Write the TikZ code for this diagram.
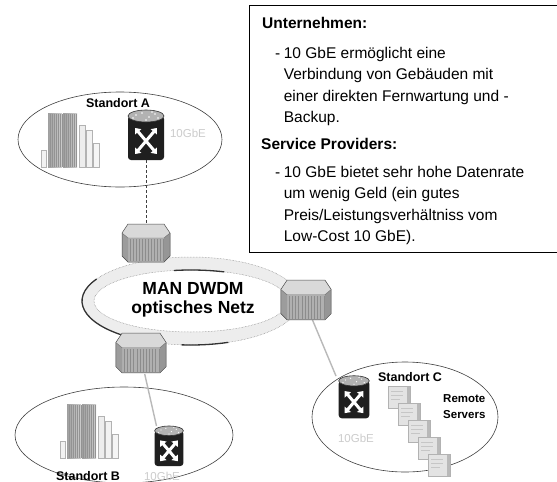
\documentclass[tikz,border=0pt]{standalone}
\usepackage{fontspec}
\setmainfont{Liberation Sans}
\usetikzlibrary{arrows.meta}

\tikzset{
  panel/.style={draw=black, line width=0.8pt},
  headtext/.style={font=\fontsize{15.5}{21.5}\selectfont\bfseries, inner sep=0pt},
  bodytext/.style={font=\fontsize{15.5}{21.5}\selectfont, inner sep=0pt},
  netlabel/.style={font=\fontsize{17.5}{19.5}\selectfont\bfseries, align=center, inner sep=0pt},
  sitelabel/.style={font=\fontsize{12.5}{14}\selectfont\bfseries, inner sep=0pt},
  srvlabel/.style={font=\fontsize{11.5}{16}\selectfont\bfseries, align=left, inner sep=0pt},
  speedlabel/.style={font=\fontsize{11.5}{13}\selectfont, text=gray!40, inner sep=0pt},
  site/.style={draw=black!75, line width=0.6pt},
  iconbox/.style={inner sep=0pt, outer sep=0pt},
  uplink/.style={draw=black!75, line width=1pt, densely dashed},
  link/.style={draw=gray!55, line width=1.4pt},
  xarrow/.style={white, line width=3pt, {Triangle[length=5pt,width=8pt]}-{Triangle[length=5pt,width=8pt]}},
  % multilayer switch: black cylinder with a white cross of arrows
  pics/router/.style={code={
    \fill[black!88, rounded corners=3pt] (-18,-19) rectangle (18,25);
    \fill[gray!60] (0,-19) ellipse[x radius=18pt, y radius=6pt];
    \draw[black!80, line width=0.6pt] (0,-19) ellipse[x radius=18pt, y radius=6pt];
    \foreach \a/\b in {-10/-20,-4/-22,3/-18,9/-21,12/-17,-13/-17,0/-15,6/-23} \fill[white] (\a,\b) circle[radius=0.8pt];
    \draw[xarrow] (-11,-7) -- (11,19);
    \draw[xarrow] (11,-7) -- (-11,19);
  }},
  % DWDM node: chamfered box with striped front
  pics/dwdm/.style={code={
    \fill[gray!62] (-24,-10) -- (-18,-5) -- (18,-5) -- (24,-10) -- (24,13) -- (18,19) -- (-18,19) -- (-24,13) -- cycle;
    \foreach \i in {-16,-13,...,17} \draw[black!45, line width=0.6pt] (\i,-4) -- (\i,18);
    \fill[gray!78] (-24,-10) -- (-18,-5) -- (-18,19) -- (-24,13) -- cycle;
    \fill[gray!82] (24,-10) -- (18,-5) -- (18,19) -- (24,13) -- cycle;
    \fill[gray!30] (-24,-10) -- (-18,-19) -- (18,-19) -- (24,-10) -- (18,-5) -- (-18,-5) -- cycle;
    \draw[black!70, line width=0.5pt] (-24,-10) -- (-18,-19) -- (18,-19) -- (24,-10) -- (24,13) -- (18,19) -- (-18,19) -- (-24,13) -- cycle;
    \draw[black!60, line width=0.4pt] (-24,-10) -- (-18,-5) -- (18,-5) -- (24,-10);
  }},
  % office buildings, origin at bottom left
  pics/towers/.style={code={
    \draw[gray!60, line width=0.5pt, fill=gray!10] (0,0) rectangle (5,-17);
    \shade[left color=gray!75, right color=gray!40] (7,0) rectangle (21,-54);
    \shade[left color=gray!75, right color=gray!40] (22,0) rectangle (36,-54);
    \foreach \x in {9,11,...,35} \draw[gray!85, line width=0.3pt] (\x,0) -- (\x,-53);
    \draw[gray!60, line width=0.5pt, fill=gray!14] (38,0) rectangle (44,-42);
    \draw[gray!60, line width=0.5pt, fill=gray!10] (45,0) rectangle (51,-37);
    \draw[gray!60, line width=0.5pt, fill=gray!8] (52,0) rectangle (58,-24);
  }},
  % single server unit, origin at top left
  pics/server/.style={code={
    \fill[gray!22] (0,0) rectangle (22,22);
    \fill[gray!55] (19,1) rectangle (22,22);
    \draw[gray!45, line width=0.5pt] (3,5) -- (15,5) (3,9) -- (15,9) (3,13) -- (12,13);
    \draw[gray!60, line width=0.5pt] (0,0) rectangle (22,22);
  }},
}

\begin{document}
\begin{tikzpicture}[x=1pt,y=-1pt]
\useasboundingbox (0,0) rectangle (557,482);
\fill[white] (0,0) rectangle (557,482);

% ---- text panel ----
\draw[panel] (249,5) -- (580,5) -- (580,252) -- (249,252) -- cycle;
\node[headtext, anchor=base west] (hU) at (262,28) {Unternehmen:};
\node[bodytext, anchor=base west] (tU) at (275,58) {\begin{tabular}[t]{@{}l@{\hspace{3.5pt}}l@{}}
-&10 GbE ermöglicht eine\\
 &Verbindung von Gebäuden mit\\
 &einer direkten Fernwartung und -\\
 &Backup.\end{tabular}};
\node[headtext, anchor=base west] (hS) at (261,149) {Service Providers:};
\node[bodytext, anchor=base west] (tS) at (275,177) {\begin{tabular}[t]{@{}l@{\hspace{3.5pt}}l@{}}
-&10 GbE bietet sehr hohe Datenrate\\
 &um wenig Geld (ein gutes\\
 &Preis/Leistungsverhältniss vom\\
 &Low-Cost 10 GbE).\end{tabular}};

% ---- optical ring ----
\fill[gray!14, even odd rule] (191,301) ellipse[x radius=109pt, y radius=44pt]
                              (191,301) ellipse[x radius=97pt, y radius=31pt];
\draw[black!50, line width=0.5pt, densely dotted] (191,301) ellipse[x radius=109pt, y radius=44pt];
\draw[black!50, line width=0.5pt, densely dotted] (191,301) ellipse[x radius=97pt, y radius=31pt];
\draw[black!80, line width=1.3pt] (191,301) ++(150:109pt and 44pt) arc[start angle=150, end angle=235, x radius=109pt, y radius=44pt];
\draw[black!80, line width=1.3pt] (191,301) ++(265:109pt and 44pt) arc[start angle=265, end angle=290, x radius=109pt, y radius=44pt];
\draw[black!80, line width=1.3pt] (191,301) ++(70:97pt and 31pt) arc[start angle=70, end angle=100, x radius=97pt, y radius=31pt];
\node[netlabel] (net) at (193,300) {MAN DWDM\\optisches Netz};

% ---- site A ----
\draw[site] (120,139.5) ellipse[x radius=102pt, y radius=47.5pt];
\node[sitelabel] (labA) at (118,103) {Standort A};
\pic at (41,167) {towers};
\node[iconbox, minimum width=37pt, minimum height=50pt] (rA) at (146,135) {};
\pic at (rA) {router};
\node[speedlabel] (gA) at (188,133) {10GbE};

% ---- site B ----
\draw[site] (124,435) ellipse[x radius=109pt, y radius=48pt];
\pic at (60,458) {towers};
\node[iconbox, minimum width=32pt, minimum height=40pt] (rB) at (169,446) {};
\pic[scale=0.8] at (rB) {router};
\node[sitelabel] (labB) at (88,476) {Standort B};
\node[speedlabel] (gB) at (162,476) {10GbE};

% ---- site C ----
\draw[site] (405,417) ellipse[x radius=93pt, y radius=55pt];
\node[iconbox, minimum width=36pt, minimum height=42pt] (rC) at (354,397) {};
\pic[scale=0.85] at (rC) {router};
\node[speedlabel] (gC) at (356,438) {10GbE};
\node[sitelabel] (labC) at (410,377) {Standort C};
\foreach \k in {0,...,4} \pic at ({388+10*\k},{386+17*\k}) {server};
\node[srvlabel, anchor=north west] (srv) at (443,394) {Remote\\Servers};

% ---- DWDM nodes ----
\node[iconbox, minimum width=52pt, minimum height=40pt] (swA) at (146,243) {};
\node[iconbox, minimum width=54pt, minimum height=40pt] (swC) at (306,300) {};
\node[iconbox, minimum width=52pt, minimum height=42pt] (swB) at (141,353) {};

% ---- access links ----
\draw[uplink] (rA.south) -- (swA.north);
\draw[link] (swB.-80) -- (rB.122);
\draw[link] (swC.-72) -- (rC.north west);

\pic at (swA) {dwdm};
\pic[scale=1.05] at (swC) {dwdm};
\pic[scale=1.05] at (swB) {dwdm};
\end{tikzpicture}
\end{document}
